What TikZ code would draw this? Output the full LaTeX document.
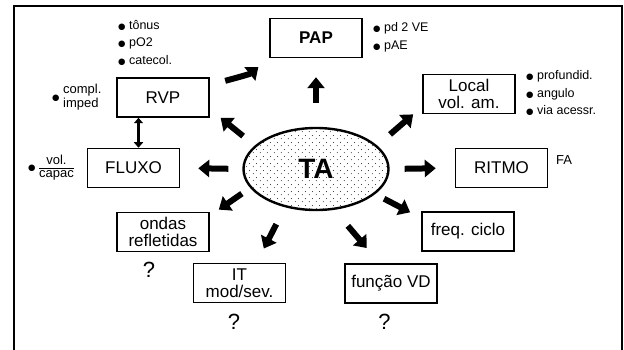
\documentclass[tikz,border=0pt]{standalone}
\usepackage{fontspec}
\setmainfont{Liberation Sans}
\newfontfamily\symfnt{DejaVu Sans}
\usetikzlibrary{shapes.geometric,arrows.meta,patterns.meta}
\newcommand{\bl}{{\symfnt\fontsize{8.5}{8.5}\selectfont ●}\hspace{3.5pt}}

\tikzdeclarepattern{
  name=tadots, type=uncolored,
  bounding box={(0pt,0pt) and (7pt,7pt)},
  tile size={(7pt,7pt)},
  code={
    \fill (1.5pt,1.5pt) circle (0.5pt);
    \fill (5pt,5pt) circle (0.5pt);
  }
}

\tikzset{
  box/.style={draw, line width=1.5pt, minimum width=92pt, minimum height=39pt,
    inner sep=1pt, align=center, font=\fontsize{17}{16.5}\selectfont},
  fat/.style={line width=6pt, -{Triangle[length=11pt,width=17pt]}},
  dbl/.style={line width=2.8pt, {Triangle[length=5.5pt,width=9pt]}-{Triangle[length=5.5pt,width=9pt]}},
  blist/.style={anchor=west, align=left, inner sep=0pt, font=\fontsize{12.5}{17.5}\selectfont},
  note/.style={inner sep=0pt, font=\fontsize{13}{13}\selectfont},
  qmark/.style={inner sep=0pt, font=\fontsize{22}{22}\selectfont},
}

\begin{document}
\begin{tikzpicture}[x=1pt,y=-1pt]
\useasboundingbox (0,0) rectangle (624,350);
% moldura
\draw[line width=1.5pt] (14,350) -- (14,6) -- (622,6) -- (622,350);
% centro
\node[ellipse, draw, line width=2.4pt, minimum width=145pt, minimum height=82pt,
  inner sep=0pt, pattern={tadots}, font=\fontsize{28}{28}\selectfont\bfseries] (ta) at (316,169) {TA};
% caixas
\node[box, font=\fontsize{17}{16.5}\selectfont\bfseries] (pap) at (316,38) {PAP};
\node[box] (rvp) at (163,97.5) {RVP};
\node[box] (fluxo) at (133.5,168) {FLUXO};
\node[box] (locvol) at (469,94) {Local\\vol. am.};
\node[box] (ritmo) at (501.5,168) {RITMO};
\node[box] (freq) at (468,231.5) {freq. ciclo};
\node[box] (funcao) at (391,283.5) {função VD};
\node[box] (it) at (239.5,283) {IT\\mod/sev.};
\node[box] (ondas) at (163,232) {ondas\\refletidas};
% notas
\node[blist] (rvpnotes) at (118,42.5) {\bl tônus\\\bl pO2\\\bl catecol.};
\node[blist] (papnotes) at (373,37.5) {\bl pd 2 VE\\\bl pAE};
\node[blist] (locnotes) at (526,93) {\bl profundid.\\\bl angulo\\\bl via acessr.};
\node[note, anchor=west] (rvpimp) at (52,98) {\bl\begin{tabular}{@{}l@{}}compl.\\[1pt]imped\end{tabular}};
\node[note, anchor=west] (fluxcap) at (28,168) {\bl\begin{tabular}{@{}c@{}}vol.\\[0pt]\hline capac\end{tabular}};
\node[note] (fa) at (564,160) {FA};
\node[qmark] (q1) at (149,270) {?};
\node[qmark] (q2) at (234,322) {?};
\node[qmark] (q3) at (384.5,322) {?};
% setas
\draw[fat, shorten <=24pt, shorten >=19pt] (ta.north) -- (pap.south);
\draw[fat, shorten <=15pt, shorten >=14pt] (ta.159) -- (rvp.-14);
\draw[fat, shorten <=14pt, shorten >=18pt] (ta.west) -- (fluxo.east);
\draw[fat, shorten <=16pt, shorten >=14pt] (rvp.15) to[out=15, in=219] (pap.south west);
\draw[fat, shorten <=17pt, shorten >=12pt] (ta.21) -- (locvol.195);
\draw[fat, shorten <=15pt, shorten >=19pt] (ta.east) -- (ritmo.west);
\draw[fat, shorten <=10pt, shorten >=12.5pt] (ta.-23.5) -- (freq.164);
\draw[fat, shorten <=21pt, shorten >=20pt] (ta.-66) -- (funcao.119);
\draw[fat, shorten <=19pt, shorten >=16pt] (ta.231) -- (it.50);
\draw[fat, shorten <=10pt, shorten >=11pt] (ta.196) -- (ondas.19);
\coordinate (fx) at ([xshift=5pt]fluxo.north);
\draw[dbl] (fx) -- (fx |- rvp.south);
\end{tikzpicture}
\end{document}
